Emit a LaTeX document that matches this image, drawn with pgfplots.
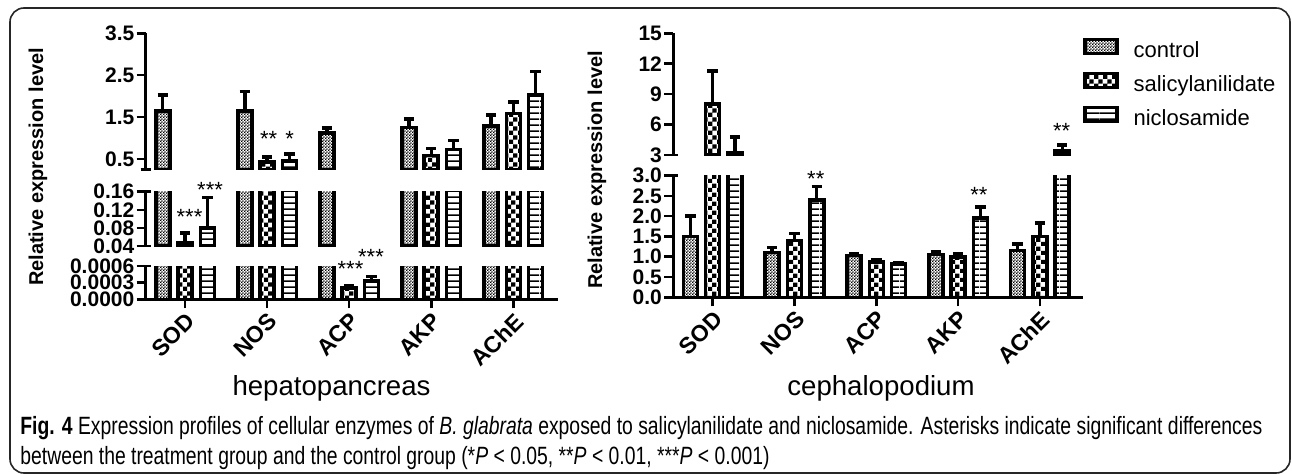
\documentclass[border=0pt]{standalone}
\usepackage{pgfplots}
\pgfplotsset{compat=1.18}
\usepackage{pgfplotstable}
\usepackage{fontspec}
\usepackage{graphicx}
\setmainfont{Liberation Sans}
\usetikzlibrary{patterns}

\newcommand\tickfont{\fontsize{10.5bp}{12bp}\selectfont\bfseries}
\newcommand\xtfont{\fontsize{11.5bp}{12bp}\selectfont\bfseries}
\newcommand\ylabfont{\fontsize{10bp}{12bp}\selectfont\bfseries}
\newcommand\titfont{\fontsize{13.8bp}{15bp}\selectfont}
\newcommand\legfont{\fontsize{11bp}{12bp}\selectfont}
\newcommand\starfont{\fontsize{11bp}{12bp}\selectfont}
\newcommand\capfont{\fontsize{12.5bp}{14bp}\selectfont}

\pgfdeclarepatternformonly{finecheck}{\pgfpointorigin}{\pgfqpoint{1.4bp}{1.4bp}}{\pgfqpoint{1.4bp}{1.4bp}}{%
  \pgfpathrectangle{\pgfpointorigin}{\pgfqpoint{0.7bp}{0.7bp}}%
  \pgfpathrectangle{\pgfqpoint{0.7bp}{0.7bp}}{\pgfqpoint{0.7bp}{0.7bp}}%
  \pgfusepath{fill}}
\pgfdeclarepatternformonly{bigcheck}{\pgfpointorigin}{\pgfqpoint{4.6bp}{4.6bp}}{\pgfqpoint{4.6bp}{4.6bp}}{%
  \pgfpathrectangle{\pgfpointorigin}{\pgfqpoint{2.3bp}{2.3bp}}%
  \pgfpathrectangle{\pgfqpoint{2.3bp}{2.3bp}}{\pgfqpoint{2.3bp}{2.3bp}}%
  \pgfusepath{fill}}
\pgfdeclarepatternformonly{hlinesb}{\pgfpointorigin}{\pgfqpoint{10bp}{3bp}}{\pgfqpoint{10bp}{3bp}}{%
  \pgfpathrectangle{\pgfpointorigin}{\pgfqpoint{10bp}{0.9bp}}%
  \pgfusepath{fill}}

% hepatopancreas
\pgfplotstableread{
x ctl  ctlE sal     salE    nic     nicE
0 1.65 0.37 0.046   0.023   0.080   0.067
1 1.65 0.46 0.43    0.11    0.45    0.16
2 1.12 0.12 0.00020 0.00004 0.00033 0.00008
3 1.25 0.20 0.58    0.17    0.72    0.22
4 1.28 0.27 1.58    0.28    2.02    0.57
}\hep
% cephalopodium
\pgfplotstableread{
x ctl  ctlE sal  salE nic  nicE
0 1.50 0.50 8.00 3.30 3.20 1.60
1 1.10 0.13 1.40 0.17 2.40 0.33
2 1.03 0.04 0.87 0.05 0.82 0.04
3 1.05 0.07 1.00 0.07 1.95 0.27
4 1.15 0.16 1.50 0.33 3.40 0.58
}\ceph

\tikzset{starnode/.style={font=\starfont, anchor=base, inner sep=0pt}}

\pgfplotsset{
  errstyle/.style={error bars/.cd, y dir=plus, y explicit,
    error bar style={line width=1.7bp, black},
    error mark options={rotate=90, mark size=2.6bp, line width=1.8bp, black}},
  bctl/.style={draw=black, line width=1.8bp, pattern=finecheck, bar shift=-11.15bp, errstyle},
  bsal/.style={draw=black, line width=1.8bp, pattern=bigcheck, bar shift=0bp, errstyle},
  bnic/.style={draw=black, line width=1.8bp, pattern=hlinesb, bar shift=11.15bp, errstyle},
  seg/.style={scale only axis, ybar, bar width=7.0bp, clip mode=individual,
    scaled y ticks=false, scaled x ticks=false,
    axis y line*=left, axis line style={line width=1.3bp, black},
    every tick/.style={black, line width=1.3bp}, major tick length=4.5bp, tick align=outside,
    yticklabel style={font=\tickfont, inner sep=1bp}, anchor=south west},
  lpanel/.style={seg, width=206.15bp, xmin=-0.479, xmax=4.544},
  rpanel/.style={seg, width=204.85bp, xmin=-0.481, xmax=4.526},
  upper/.style={axis x line=none, xtick=\empty},
  lower/.style={axis x line*=bottom, xtick={0,...,4}, xticklabels={SOD,NOS,ACP,AKP,AChE},
    xticklabel style={font=\xtfont, rotate=45, anchor=north east, inner sep=1bp}},
  cap/.style={extra y ticks={#1}, extra y tick labels={},
    extra y tick style={tick align=center, major tick length=5bp}},
}

\newcommand\bars[1]{%
  \addplot[bctl] table[x=x, y=ctl, y error=ctlE] {#1};
  \addplot[bsal] table[x=x, y=sal, y error=salE] {#1};
  \addplot[bnic] table[x=x, y=nic, y error=nicE] {#1};}
\newcommand\clampbars[1]{%
  \addplot[bctl] table[x=x, y expr={min(\thisrow{ctl},0.001)}, y error expr={\thisrow{ctl}>0.001 ? 0 : \thisrow{ctlE}}] {#1};
  \addplot[bsal] table[x=x, y expr={min(\thisrow{sal},0.001)}, y error expr={\thisrow{sal}>0.001 ? 0 : \thisrow{salE}}] {#1};
  \addplot[bnic] table[x=x, y expr={min(\thisrow{nic},0.001)}, y error expr={\thisrow{nic}>0.001 ? 0 : \thisrow{nicE}}] {#1};}

\newsavebox\capone
\newsavebox\captwo
\AtBeginDocument{%
  \sbox\capone{\capfont\textbf{Fig. 4} Expression profiles of cellular enzymes of \textit{B. glabrata} exposed to salicylanilidate and niclosamide. Asterisks indicate significant differences}%
  \sbox\captwo{\capfont between the treatment group and the control group (*\textit{P} {\textless} 0.05, **\textit{P} {\textless} 0.01, ***\textit{P} {\textless} 0.001)}%
  \pgfmathsetmacro\capsc{621bp/\wd\capone}%
}

\begin{document}
\begin{tikzpicture}
\path[use as bounding box] (0,0) rectangle (646bp,-237bp);
\draw[line width=0.8bp, rounded corners=7bp, black!85] (5bp,-4bp) rectangle (645bp,-236.5bp);

% ---------- hepatopancreas ----------
\begin{axis}[lpanel, lower, at={(72.85bp,-149.65bp)}, height=16.65bp,
  ymin=0, ymax=0.0006, ytick={0,0.0003,0.0006}, yticklabels={0.0000,0.0003,0.0006}, cap={0.0006}]
  \clampbars{\hep}
\end{axis}
\begin{axis}[lpanel, upper, at={(72.85bp,-123bp)}, height=27.15bp,
  ymin=0.04, ymax=0.16, restrict y to domain=0.04:1000,
  ytick={0.04,0.08,0.12,0.16}, yticklabels={0.04,0.08,0.12,0.16}, cap={0.04,0.16}]
  \bars{\hep}
  \node[starnode] at (axis cs:0.055,0.0877) {***};
  \node[starnode] at (axis cs:0.305,0.148) {***};
\end{axis}
\begin{axis}[lpanel, upper, at={(72.85bp,-84.65bp)}, height=68bp,
  ymin=0.25, ymax=3.5, restrict y to domain=0.25:1000,
  ytick={0.5,1.5,2.5,3.5}, yticklabels={0.5,1.5,2.5,3.5}, cap={0.25}]
  \bars{\hep}
  \node[starnode] at (axis cs:1.02,0.788) {**};
  \node[starnode] at (axis cs:1.276,0.788) {*};
\end{axis}
% significance marks of ACP (set as text beside the lowest segment)
\node[starnode] at (175.25bp,-138.4bp) {***};
\node[starnode] at (185.5bp,-132.15bp) {***};

% ---------- cephalopodium ----------
\begin{axis}[rpanel, lower, at={(336.65bp,-148.65bp)}, height=60.9bp,
  ymin=0, ymax=3, ytick={0,0.5,1,1.5,2,2.5,3}, yticklabels={0.0,0.5,1.0,1.5,2.0,2.5,3.0}, cap={3}]
  \bars{\ceph}
  \node[starnode] at (axis cs:1.26,2.734) {**};
  \node[starnode] at (axis cs:3.253,2.328) {**};
\end{axis}
\begin{axis}[rpanel, upper, at={(336.65bp,-77.5bp)}, height=60.85bp,
  ymin=3, ymax=15, restrict y to domain=3:1000,
  ytick={3,6,9,12,15}, yticklabels={3,6,9,12,15}, cap={3},
  legend style={draw=none, fill=none, at={(1,1)}, anchor=north west, yshift=-2.25bp,
    font=\legfont, row sep=5bp, inner sep=0pt,
    nodes={inner sep=0pt, text height=8bp, text depth=2.2bp},
    /tikz/every odd column/.append style={column sep=7.5bp}},
  legend cell align=left]
  \addlegendimage{legend image code/.code={\draw[pattern=finecheck, line width=1.6bp] (0bp,-1bp) rectangle (16bp,6bp);}}
  \addlegendimage{legend image code/.code={\draw[pattern=bigcheck, line width=1.6bp] (0bp,-1bp) rectangle (16bp,6bp);}}
  \addlegendimage{legend image code/.code={\draw[pattern=hlinesb, line width=1.6bp] (0bp,-1bp) rectangle (16bp,6bp);}}
  \legend{control,salicylanilidate,niclosamide}
  \bars{\ceph}
  \node[starnode] at (axis cs:4.265,4.59) {**};
\end{axis}

% ---------- labels ----------
\node[rotate=90, font=\ylabfont] at (19bp,-83.5bp) {Relative expression level};
\node[rotate=90, font=\ylabfont] at (298.5bp,-85bp) {Relative expression level};
\node[anchor=base, font=\titfont] at (165.75bp,-197.5bp) {hepatopancreas};
\node[anchor=base, font=\titfont] at (440.5bp,-197.5bp) {cephalopodium};

% ---------- caption ----------
\node[anchor=base west, inner sep=0pt] at (10bp,-217bp) {\scalebox{\capsc}[1]{\usebox\capone}};
\node[anchor=base west, inner sep=0pt] at (10bp,-232bp) {\scalebox{\capsc}[1]{\usebox\captwo}};
\end{tikzpicture}
\end{document}
